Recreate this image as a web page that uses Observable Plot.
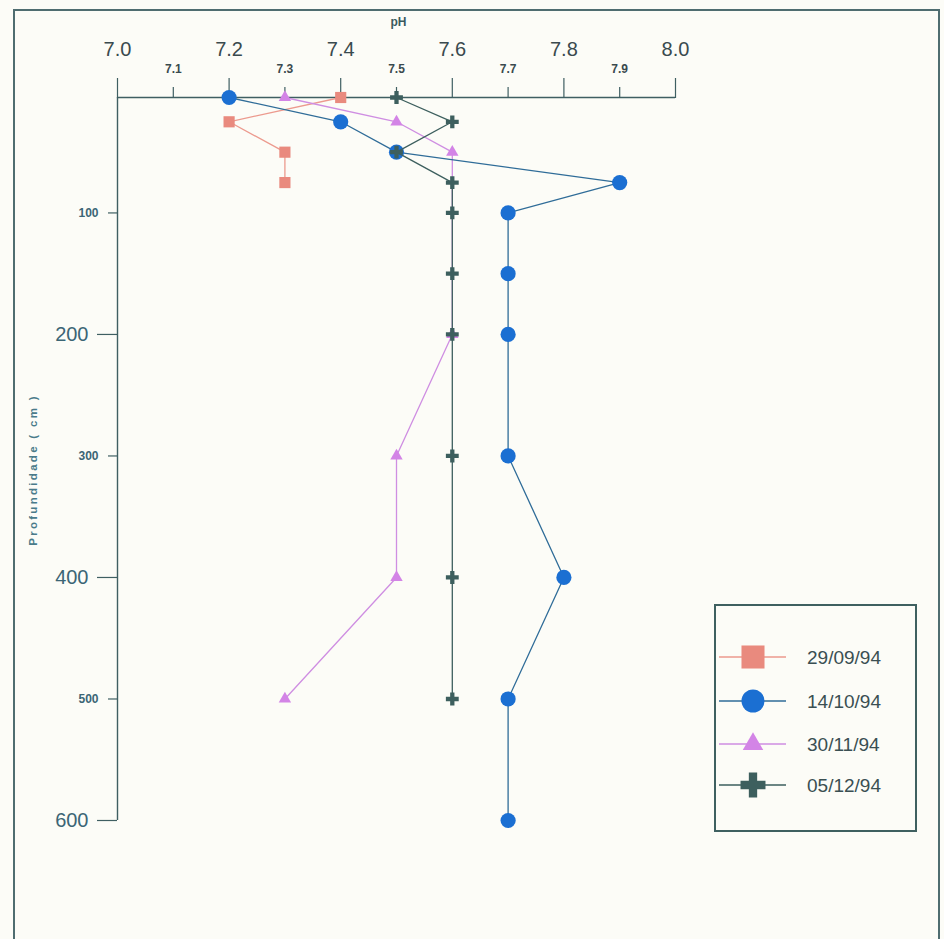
<!DOCTYPE html>
<html><head><meta charset="utf-8">
<script src="https://cdn.jsdelivr.net/npm/d3@7"></script>
<script src="https://cdn.jsdelivr.net/npm/@observablehq/plot@0.6"></script>
<style>
body{margin:0;background:#fcfcf7;}
#wrap{position:relative;width:944px;height:939px;background:#fcfcf7;overflow:hidden;}
#frame{position:absolute;left:13px;top:9px;width:923px;height:940px;border:2px solid #4f6d70;border-bottom:none;}
#legend{position:absolute;left:714px;top:604px;width:199px;height:224px;border:2px solid #3f6060;}
svg{font-family:"Liberation Sans","Arial",sans-serif;}
</style></head>
<body><div id="wrap"><div id="frame"></div><div id="chart"></div><div id="legend"></div></div>
<script>
// ---- data ----
const xMajorTicks = [7.0, 7.2, 7.4, 7.6, 7.8, 8.0];
const xMinorTicks = [7.1, 7.3, 7.5, 7.7, 7.9];
const yMajorTicks = [200, 400, 600];
const yMinorTicks = [100, 300, 500];

const seriesNames = ["29/09/94", "14/10/94", "30/11/94", "05/12/94"];
const depth1 = [5, 25, 50, 75];
const ph1    = [7.4, 7.2, 7.3, 7.3];
const depth2 = [5, 25, 50, 75, 100, 150, 200, 300, 400, 500, 600];
const ph2    = [7.2, 7.4, 7.5, 7.9, 7.7, 7.7, 7.7, 7.7, 7.8, 7.7, 7.7];
const depth3 = [5, 25, 50, 200, 300, 400, 500];
const ph3    = [7.3, 7.5, 7.6, 7.6, 7.5, 7.5, 7.3];
const depth4 = [5, 25, 50, 75, 100, 150, 200, 300, 400, 500];
const ph4    = [7.5, 7.6, 7.5, 7.6, 7.6, 7.6, 7.6, 7.6, 7.6, 7.6];

// ---- styles ----
const styles = [
  {symbol: "square",   fill: "#e98a7e", line: "#ec9a8e", r: 6.3, lr: 13},
  {symbol: "circle",   fill: "#1b6fd2", line: "#2f6c98", r: 7.6, lr: 11.5},
  {symbol: "triangle", fill: "#d384e6", line: "#cf8ee2", r: 4.6, lr: 7.6},
  {symbol: "cross",    fill: "#3d5f5e", line: "#3d5f5e", r: 5.4, lr: 10.5}
];
const series = [[depth1, ph1], [depth2, ph2], [depth3, ph3], [depth4, ph4]].map(([d, p], i) =>
  d.map((v, j) => ({depth: v, ph: p[j], name: seriesNames[i]})));

const axisColor = "#3f5f62";
const font = "'Liberation Sans',Arial,sans-serif";

const marks = [
  Plot.ruleY([5], {stroke: axisColor, strokeWidth: 1.4}),
  Plot.ruleX([7], {stroke: axisColor, strokeWidth: 1.4}),
  Plot.axisX(xMajorTicks, {anchor: "top", tickSize: 20, tickPadding: 22, fontSize: 20, fontFamily: font,
    tickFormat: d => d.toFixed(1), stroke: axisColor, strokeWidth: 1.2, fill: "#3a4a4e", label: null}),
  Plot.axisX(xMinorTicks, {anchor: "top", tickSize: 11, tickPadding: 14, fontSize: 12, fontWeight: "bold", fontFamily: font,
    tickFormat: d => d.toFixed(1), stroke: axisColor, strokeWidth: 1.2, fill: "#3a4a4e", label: null}),
  Plot.axisY(yMajorTicks, {anchor: "left", tickSize: 20, tickPadding: 9, fontSize: 20, fontFamily: font,
    stroke: axisColor, strokeWidth: 1.2, fill: "#3b6575", label: null}),
  Plot.axisY(yMinorTicks, {anchor: "left", tickSize: 9, tickPadding: 10, fontSize: 12, fontWeight: "bold", fontFamily: font,
    stroke: axisColor, strokeWidth: 1.2, fill: "#3b6575", label: null}),
  Plot.text(["pH"], {text: d => d, frameAnchor: "top-left", dx: 273, dy: -80, fontSize: 12, fontWeight: "bold",
    fontFamily: font, fill: "#3a5a5e"}),
  Plot.text(["Profundidade ( cm )"], {text: d => d, frameAnchor: "left", textAnchor: "middle", dx: -84, dy: 11, rotate: -90,
    fontSize: 11.5, fontWeight: "bold", fontFamily: font, fill: "#4a7b8a", className: "ylab"})
];
const order = [0, 2, 1, 3];
for (const i of order) {
  marks.push(Plot.line(series[i], {x: "ph", y: "depth", stroke: styles[i].line, strokeWidth: 1.3}));
  marks.push(Plot.dot(series[i], {x: "ph", y: "depth", symbol: styles[i].symbol, r: styles[i].r, fill: styles[i].fill, stroke: "none"}));
}

const chart = Plot.plot({
  width: 944, height: 939,
  marginLeft: 117, marginRight: 269, marginTop: 97, marginBottom: 119,
  style: {background: "transparent", overflow: "visible"},
  x: {domain: [7, 8], axis: null},
  y: {domain: [5, 600], reverse: true, axis: null},
  marks
});
document.getElementById("chart").appendChild(chart);
d3.select(chart).selectAll(".ylab text").style("letter-spacing", "2.3px");

// ---- legend ----
const symMap = {square: d3.symbolSquare, circle: d3.symbolCircle, triangle: d3.symbolTriangle, cross: d3.symbolCross};
const lg = d3.select("#legend").append("svg").attr("width", 199).attr("height", 224);
const rowsY = [51, 95, 138, 179];
seriesNames.forEach((name, i) => {
  const s = styles[i], y = rowsY[i];
  const g = lg.append("g");
  g.append("line").attr("x1", 3).attr("x2", 70).attr("y1", y).attr("y2", y).attr("stroke", s.line).attr("stroke-width", 1.5);
  g.append("path").attr("transform", `translate(37,${y})`)
    .attr("d", d3.symbol(symMap[s.symbol], Math.PI * s.lr * s.lr)()).attr("fill", s.fill);
  g.append("text").attr("x", 91).attr("y", y).attr("dy", "0.36em").attr("font-size", 19)
    .attr("font-family", font).attr("fill", "#3a4f52").text(name);
});
</script></body></html>
